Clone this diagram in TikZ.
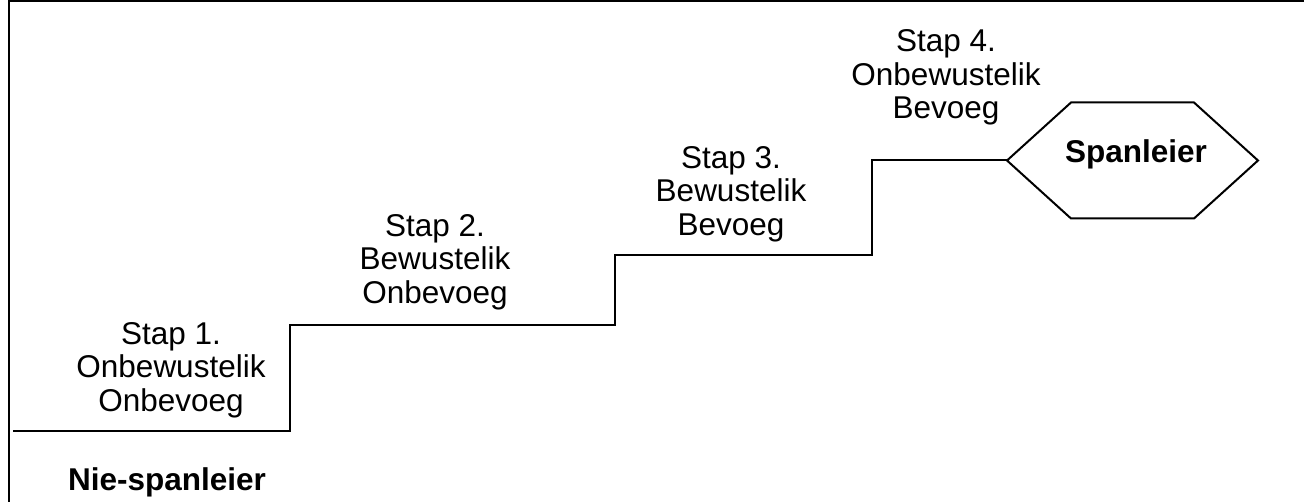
\documentclass[tikz,border=0pt]{standalone}
\usepackage{fontspec}
\setmainfont{Liberation Sans}
\usetikzlibrary{positioning}

\tikzset{
	stap/.style={align=center,inner sep=0pt,font=\fontsize{31.5}{33.5}\selectfont},
	leier/.style={inner sep=0pt,font=\fontsize{31.5}{33.5}\selectfont\bfseries},
	hex/.style={minimum width=249pt,minimum height=114pt,inner sep=0pt}
}

\begin{document}
\begin{tikzpicture}[x=1pt,y=-1pt,line width=2pt]
	\useasboundingbox (0,0) rectangle (1304,502);
	% frame
	\coordinate (fb) at (9,502);
	\coordinate (fl) at (9,1.5);
	\coordinate (fr) at (1304,1.5);
	\draw (fb) -- (fl) -- (fr);
	% stairs
	\coordinate (s0) at (13,431);
	\coordinate (s1) at (290,325);
	\coordinate (s2) at (615,255);
	\coordinate (s3) at (872,160.5);
	\node[hex] (spanleier) at (1132.5,160.5) {};
	\draw (s0) -| (s1) -| (s2) -| (s3) -- (spanleier.west);
	\draw (spanleier.west) -- ([xshift=64pt]spanleier.north west)
		-- ([xshift=-64pt]spanleier.north east) -- (spanleier.east)
		-- ([xshift=-64pt]spanleier.south east) -- ([xshift=64pt]spanleier.south west) -- cycle;
	\node[leier] (spantekst) at (1136,154) {Spanleier};
	\node[leier] (niespan) at (167,482) {Nie-spanleier};
	% steps
	\node[stap] (stap1) at (171,370) {Stap 1.\\Onbewustelik\\Onbevoeg};
	\node[stap] (stap2) at (435,262) {Stap 2.\\Bewustelik\\Onbevoeg};
	\node[stap] (stap3) at (731,194) {Stap 3.\\Bewustelik\\Bevoeg};
	\node[stap] (stap4) at (946,77.5) {Stap 4.\\Onbewustelik\\Bevoeg};
\end{tikzpicture}
\end{document}
